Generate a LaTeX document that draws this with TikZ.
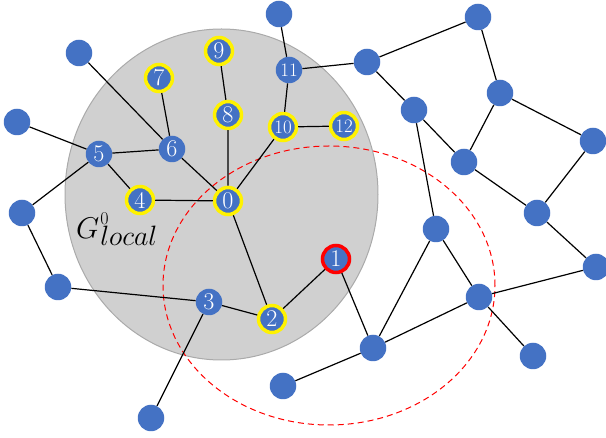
\RequirePackage{fix-cm}
\documentclass[tikz,border=0pt]{standalone}
\usepackage{amsmath}
\usepackage{tikz}
\usepackage{color}

\definecolor{nodeblue}{RGB}{68,114,196}
\definecolor{localgray}{RGB}{208,208,208}
\definecolor{rimgray}{RGB}{170,170,170}

\begin{document}
\begin{tikzpicture}[x=1pt,y=-1pt,
  vtx/.style={circle, fill=nodeblue, inner sep=0pt, minimum size=26.5pt, text=white, font=\fontsize{24}{24}\selectfont},
  seen/.style={vtx, draw=yellow, line width=3.5pt, minimum size=27pt},
  start/.style={vtx, draw=red, line width=3.5pt, minimum size=27pt},
  twodig/.style={font=\fontsize{19}{19}\selectfont},
  link/.style={black, line width=1.2pt}]
\useasboundingbox (0,0) rectangle (606,438);

\draw[fill=localgray, draw=rimgray, line width=1pt] (221.5,194.5) ellipse [x radius=156.5pt, y radius=165.5pt];
\draw[red, line width=1pt, dash pattern=on 6pt off 4pt] (329,285.5) ellipse [x radius=166pt, y radius=139.5pt];

\node[anchor=base west, inner sep=0pt] (glocal) at (76,239)
  {\fontsize{30}{30}\selectfont$G$\kern1pt\rlap{\raisebox{14pt}{\fontsize{18}{18}\selectfont 0}}\raisebox{-7pt}{\fontsize{28}{28}\selectfont$local$}};

\node[seen] (n0) at (228,201) {0};
\node[start] (n1) at (336,259) {1};
\node[seen] (n2) at (272,319) {2};
\node[vtx] (n3) at (209,302) {3};
\node[seen] (n4) at (140,200) {4};
\node[vtx] (n5) at (99,154) {5};
\node[vtx] (n6) at (172,149) {6};
\node[seen] (n7) at (159,78) {7};
\node[seen] (n8) at (228,115) {8};
\node[seen] (n9) at (219,51) {9};
\node[seen, twodig] (n10) at (283,127) {10};
\node[vtx, twodig] (n11) at (289,70) {11};
\node[seen, twodig] (n12) at (344,126) {12};

\node[vtx] (xa) at (279,14) {};
\node[vtx] (xb) at (367,62) {};
\node[vtx] (xc) at (478,17) {};
\node[vtx] (xd) at (500,93) {};
\node[vtx] (xe) at (414,110) {};
\node[vtx] (xf) at (464,162) {};
\node[vtx] (xg) at (593,141) {};
\node[vtx] (xh) at (537,213) {};
\node[vtx] (xi) at (436,229) {};
\node[vtx] (xj) at (596,267) {};
\node[vtx] (xk) at (479,297) {};
\node[vtx] (xl) at (373,348) {};
\node[vtx] (xm) at (533,356) {};
\node[vtx] (xn) at (283,386) {};
\node[vtx] (xo) at (151,418) {};
\node[vtx] (xp) at (58,287) {};
\node[vtx] (xq) at (22,213) {};
\node[vtx] (xr) at (17,122) {};
\node[vtx] (xs) at (79,53) {};

\draw[link] (xs) -- (n6) (xr) -- (n5) (n5) -- (n6) (n5) -- (n4) (n5) -- (xq)
  (xq) -- (xp) (xp) -- (n3) (n3) -- (n2) (n3) -- (xo);
\draw[link] (n6) -- (n7) (n6) -- (n0) (n4) -- (n0) (n8) -- (n0) (n9) -- (n8)
  (n0) -- (n10) (n10) -- (n11) (n10) -- (n12) (n11) -- (xa) (n11) -- (xb)
  (n0) -- (n2) (n2) -- (n1) (n1) -- (xl);
\draw[link] (xl) -- (xn) (xl) -- (xi) (xl) -- (xk) (xi) -- (xk) (xi) -- (xe)
  (xb) -- (xc) (xb) -- (xe) (xc) -- (xd) (xd) -- (xf) (xd) -- (xg)
  (xe) -- (xf) (xf) -- (xh) (xg) -- (xh) (xh) -- (xj) (xk) -- (xj) (xk) -- (xm);

\end{tikzpicture}
\end{document}
